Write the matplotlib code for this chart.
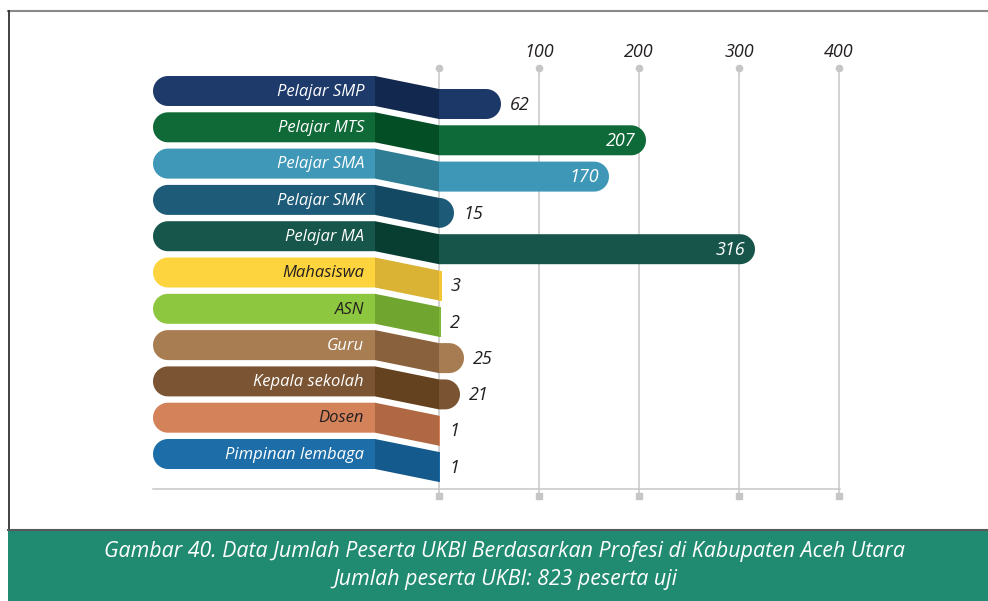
import numpy as np
import matplotlib
matplotlib.use("Agg")
import matplotlib.pyplot as plt
from matplotlib.patches import Polygon, Rectangle

plt.rcParams["font.family"] = ["Open Sans", "DejaVu Sans"]

# data
categories = ["Pelajar SMP", "Pelajar MTS", "Pelajar SMA", "Pelajar SMK", "Pelajar MA",
              "Mahasiswa", "ASN", "Guru", "Kepala sekolah", "Dosen", "Pimpinan lembaga"]
values = [62, 207, 170, 15, 316, 3, 2, 25, 21, 1, 1]
tick_values = [100, 200, 300, 400]
caption_1 = "Gambar 40. Data Jumlah Peserta UKBI Berdasarkan Profesi di Kabupaten Aceh Utara"
caption_2 = "Jumlah peserta UKBI: 823 peserta uji"

# colours: pill, fold, bar
pill_colors = ["#1e3a6a", "#0f6a38", "#3f98b8", "#1e5b79", "#17564a", "#fdd43d",
               "#8dc63f", "#a97d52", "#7b5433", "#d4825a", "#1d6ea8"]
fold_colors = ["#13284f", "#034e24", "#2f7d95", "#134962", "#083d31", "#dab334",
               "#70a52f", "#8a613d", "#64421f", "#b06844", "#145a8c"]
bar_colors = ["#1c3868", "#0e6a38", "#3e97b7", "#1d5a78", "#17554a", "#f5c634",
              "#80b93a", "#a87c52", "#7a5332", "#d4835a", "#1c6aa3"]
text_dark = ["Mahasiswa", "ASN", "Dosen"]

W, H = 988, 601
ROW = 36.3          # px per row
Y0 = 104            # px centre of first row
X0 = 439            # px of value 0
R = 15              # px radius / half height
SHIFT = 13 / ROW    # label pill raised above bar
HH = R / ROW        # half height in row units

fig = plt.figure(figsize=(W / 100, H / 100), dpi=100)
ax = fig.add_axes([0, 0, 1, 1])
ax.set_xlim(-X0, W - X0)
ax.set_ylim((H - Y0) / ROW, -Y0 / ROW)
ax.axis("off")


def arc(cx, cy, start, end, n=30):
    t = np.linspace(np.radians(start), np.radians(end), n)
    return np.column_stack([cx + R * np.cos(t), cy + HH * np.sin(t)])


pill_left = 153 - X0
pill_right = 375 - X0

# grid
grid_y_top = (68 - Y0) / ROW
grid_y_bot = (496 - Y0) / ROW
for v in [0] + tick_values:
    ax.plot([v, v], [grid_y_top, grid_y_bot], color="#c6c6c6", lw=1.1, zorder=1)
    ax.plot(v, grid_y_top, "o", ms=4.5, color="#c6c6c6", zorder=1)
    ax.plot(v, grid_y_bot, "s", ms=4.5, color="#c6c6c6", zorder=1)
    if v > 0:
        ax.text(v, (52 - Y0) / ROW, str(v), ha="center", va="center",
                fontsize=13, style="italic", color="#231f20")
base_y = (489 - Y0) / ROW
ax.plot([pill_left, 401], [base_y, base_y], color="#c6c6c6", lw=1.1, zorder=1)

for i, (cat, v) in enumerate(zip(categories, values)):
    yc = i
    yl = yc - SHIFT
    # label pill
    pts = np.vstack([arc(pill_left + R, yl, 90, 270), [[pill_right, yl - HH], [pill_right, yl + HH]]])
    ax.add_patch(Polygon(pts, closed=True, color=pill_colors[i], lw=0, zorder=3))
    # fold
    fold = [[pill_right, yl - HH], [0, yc - HH], [0, yc + HH], [pill_right, yl + HH]]
    ax.add_patch(Polygon(fold, closed=True, color=fold_colors[i], lw=0, zorder=3))
    # bar
    if v >= R:
        pts = np.vstack([[[0, yc + HH], [0, yc - HH]], arc(v - R, yc, -90, 90)])
    else:
        pts = [[0, yc - HH], [v, yc - HH], [v, yc + HH], [0, yc + HH]]
    ax.add_patch(Polygon(pts, closed=True, color=bar_colors[i], lw=0, zorder=3))
    tc = "#231f20" if cat in text_dark else "white"
    ax.text(pill_right - 11, yl + 0.02, cat, ha="right", va="center", fontsize=12,
            style="italic", color=tc, zorder=4)
    if v > 150:
        ax.text(v - 10, yc + 0.02, str(v), ha="right", va="center", fontsize=13,
                style="italic", color="white", zorder=4)
    else:
        ax.text(max(v, 0) + 9, yc + 0.02, str(v), ha="left", va="center", fontsize=13,
                style="italic", color="#231f20", zorder=4)

# frame and caption band
fig.add_artist(plt.Line2D([8 / W, 1], [1 - 11 / H, 1 - 11 / H], color="#8a8a8a", lw=1.5))
fig.add_artist(plt.Line2D([8.5 / W, 8.5 / W], [1 - 11 / H, 1 - 530 / H], color="#231f20", lw=1.2))
fig.add_artist(Rectangle((8 / W, 0), 1 - 8 / W, 71 / H, transform=fig.transFigure,
                         color="#218b72", lw=0))
fig.add_artist(plt.Line2D([8 / W, 1], [71 / H, 71 / H], color="#58595b", lw=1.5))
fig.text(505 / W, 1 - 552 / H, caption_1, ha="center", va="center", fontsize=15.4,
         style="italic", color="white")
fig.text(505 / W, 1 - 579 / H, caption_2, ha="center", va="center", fontsize=15.4,
         style="italic", color="white")

fig.savefig("out.png", dpi=100)
